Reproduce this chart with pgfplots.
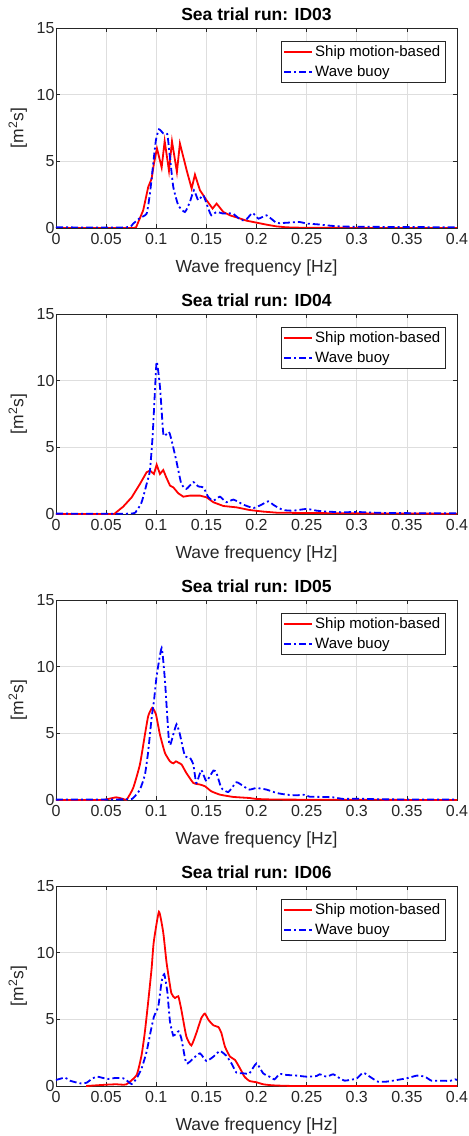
\documentclass[border=0pt]{standalone}
\usepackage{fontspec}
\setmainfont{Liberation Sans}
\usepackage{pgfplots}
\pgfplotsset{compat=1.18}
\usepgfplotslibrary{groupplots}

\pgfplotsset{
  legend image code/.code={\draw[#1] plot coordinates {(0pt,0pt) (28pt,0pt)};},
  specstyle/.style={
    width=401pt,height=200pt,scale only axis,
    xmin=0,xmax=0.4,ymin=0,ymax=15,
    xtick={0,0.05,0.1,0.15,0.2,0.25,0.3,0.35,0.4},
    xticklabels={0,0.05,0.1,0.15,0.2,0.25,0.3,0.35,0.4},
    ytick={0,5,10,15},
    scaled x ticks=false,
    /pgf/number format/assume math mode=true,
    grid=major,
    grid style={black!13,line width=0.6pt},
    axis line style={black!85,line width=0.7pt},
    tick style={black!85,line width=0.7pt},
    tick align=inside,major tick length=4pt,
    xticklabel style={yshift=-2pt},
    yticklabel style={xshift=2pt},
    ticklabel style={font=\fontsize{16}{19}\selectfont,text=black!85},
    xlabel={Wave frequency [Hz]},
    ylabel={[m\textsuperscript{2}s]},
    label style={font=\fontsize{17.5}{21}\selectfont,text=black!85},
    xlabel style={at={(axis description cs:0.5,-0.2)},anchor=center},
    ylabel style={at={(axis description cs:-0.095,0.5)},anchor=center},
    title style={at={(axis description cs:0.5,1.04)},anchor=center,
      font=\bfseries\fontsize{17.5}{21}\selectfont},
    legend style={at={(0.97,0.935)},anchor=north east,draw=black!85,
      font=\fontsize{15}{18}\selectfont,row sep=3.5pt,inner sep=2.5pt},
    legend cell align=left,
  },
  shipline/.style={color=red,line width=1.8pt},
  buoyline/.style={color=blue,line width=1.8pt,dash pattern=on 7pt off 3pt on 2pt off 3pt},
}

\begin{document}
\begin{tikzpicture}
\begin{groupplot}[group style={group size=1 by 4,vertical sep=86pt},specstyle]

\nextgroupplot[title={Sea trial run: ID03}]
\addplot[shipline] coordinates {(0,0)(0.078,0)(0.080,0.07)(0.087,1.33)(0.092,3.08)(0.0954,3.7)(0.0977,4.84)
 (0.1007,5.97)(0.1054,4.54)(0.1084,6.52)(0.1127,4.29)(0.1157,6.5)(0.1206,4.2)(0.1236,6.34)(0.1303,4.34)
 (0.1353,2.96)(0.1386,4.0)(0.1436,2.83)(0.1502,2.08)(0.1562,1.46)(0.1602,1.83)(0.1669,1.2)(0.1735,0.95)
 (0.18,0.8)(0.19,0.55)(0.2,0.4)(0.21,0.25)(0.22,0.12)(0.23,0.05)(0.25,0.01)(0.4,0)};
\addlegendentry{Ship motion-based}
\addplot[buoyline,smooth,tension=0.3] coordinates {(0,0.05)(0.07,0.05)(0.077,0.33)(0.0837,0.75)(0.0904,1.08)(0.0937,2.58)(0.097,4.84)
 (0.0997,6.6)(0.1027,7.4)(0.107,7.1)(0.111,7.05)(0.1136,5.34)(0.117,3.08)(0.122,1.7)(0.1286,1.2)(0.1336,1.96)
 (0.1376,2.83)(0.1419,2.08)(0.1469,2.46)(0.1519,1.46)(0.155,0.95)(0.1602,1.2)(0.1669,1.08)(0.1735,1.1)
 (0.177,1.05)(0.185,0.58)(0.19,0.65)(0.196,1.13)(0.202,0.7)(0.21,0.95)(0.22,0.38)(0.227,0.38)(0.243,0.45)
 (0.25,0.33)(0.26,0.28)(0.27,0.2)(0.28,0.13)(0.293,0.1)(0.33,0.08)(0.4,0.05)};
\addlegendentry{Wave buoy}

\nextgroupplot[title={Sea trial run: ID04}]
\addplot[shipline] coordinates {(0,0)(0.058,0)(0.067,0.55)(0.0755,1.25)(0.0837,2.25)(0.0904,3.13)(0.0937,3.26)
 (0.0977,3.0)(0.1004,3.7)(0.1037,3.0)(0.107,3.3)(0.1097,2.8)(0.1137,2.13)(0.117,2.0)(0.122,1.55)(0.127,1.3)
 (0.1336,1.38)(0.1436,1.38)(0.1502,1.25)(0.157,0.88)(0.167,0.6)(0.18,0.5)(0.193,0.3)(0.2067,0.18)(0.22,0.1)
 (0.243,0.08)(0.293,0.05)(0.4,0.02)};
\addlegendentry{Ship motion-based}
\addplot[buoyline,smooth,tension=0.3] coordinates {(0,0.03)(0.074,0.03)(0.0804,0.25)(0.0854,0.88)(0.0904,2.25)(0.0937,3.26)(0.0963,5.76)
 (0.0984,8.77)(0.1004,11.43)(0.1037,9.55)(0.107,6.03)(0.109,5.9)(0.1127,6.15)(0.1153,5.53)(0.12,4.0)(0.125,2.26)
 (0.13,1.88)(0.137,2.39)(0.142,2.06)(0.147,2.0)(0.152,1.26)(0.157,1.0)(0.1635,1.3)(0.17,0.88)(0.177,1.08)
 (0.187,0.7)(0.197,0.45)(0.205,0.7)(0.2117,0.95)(0.218,0.63)(0.2267,0.3)(0.2366,0.25)(0.25,0.38)(0.26,0.25)
 (0.27,0.18)(0.2865,0.13)(0.3,0.15)(0.326,0.08)(0.36,0.06)(0.4,0.05)};
\addlegendentry{Wave buoy}

\nextgroupplot[title={Sea trial run: ID05}]
\addplot[shipline,smooth,tension=0.3] coordinates {(0,0)(0.045,0)(0.0505,0.05)(0.06,0.2)(0.067,0.08)(0.0705,0.03)(0.077,0.9)(0.0837,2.66)
 (0.0887,4.9)(0.092,6.3)(0.096,6.92)(0.0997,6.42)(0.1037,4.9)(0.1087,3.53)(0.1137,2.9)(0.117,2.75)(0.1196,2.9)
 (0.122,2.8)(0.1253,2.66)(0.13,2.03)(0.137,1.28)(0.1436,1.16)(0.1486,1.03)(0.155,0.65)(0.1635,0.4)(0.167,0.35)
 (0.177,0.23)(0.193,0.15)(0.2,0.08)(0.227,0.03)(0.4,0)};
\addlegendentry{Ship motion-based}
\addplot[buoyline,smooth,tension=0.3] coordinates {(0,0.03)(0.0705,0.05)(0.077,0.15)(0.0837,0.78)(0.0887,1.9)(0.092,3.66)(0.0954,6.17)
 (0.0977,7.42)(0.1004,9.3)(0.1054,11.4)(0.1087,8.94)(0.113,4.17)(0.117,4.92)(0.1203,5.68)(0.1236,4.92)
 (0.1286,3.29)(0.1336,3.17)(0.137,2.66)(0.14,1.28)(0.145,2.24)(0.15,1.41)(0.157,2.21)(0.16,2.04)(0.165,0.9)
 (0.172,0.6)(0.18,1.33)(0.187,1.03)(0.193,0.78)(0.2,0.9)(0.21,0.78)(0.22,0.53)(0.23,0.4)(0.24,0.35)
 (0.2466,0.4)(0.253,0.25)(0.2665,0.23)(0.2765,0.2)(0.2865,0.08)(0.3,0.1)(0.326,0.05)(0.4,0.03)};
\addlegendentry{Wave buoy}

\nextgroupplot[title={Sea trial run: ID06}]
\addplot[shipline,smooth,tension=0.3] coordinates {(0.03,0)(0.0505,0.1)(0.06,0.13)(0.07,0.12)(0.0804,0.82)(0.0854,2.33)(0.0887,4.08)
 (0.092,6.34)(0.0954,8.84)(0.0975,10.8)(0.1027,13.07)(0.107,11.5)(0.1103,9.25)(0.115,6.98)(0.1187,6.6)
 (0.122,6.73)(0.125,5.73)(0.13,3.72)(0.135,3.04)(0.14,3.97)(0.145,5.1)(0.1485,5.43)(0.152,4.97)(0.157,4.55)
 (0.162,4.42)(0.165,3.97)(0.1685,2.96)(0.1735,2.21)(0.1785,1.96)(0.1835,1.33)(0.188,0.7)(0.193,0.38)
 (0.2,0.28)(0.2067,0.13)(0.2167,0.05)(0.243,0)(0.4,0)};
\addlegendentry{Ship motion-based}
\addplot[buoyline,smooth,tension=0.3] coordinates {(0,0.45)(0.009,0.63)(0.014,0.4)(0.024,0.2)(0.0306,0.25)(0.0365,0.58)(0.0415,0.7)
 (0.047,0.6)(0.052,0.53)(0.059,0.6)(0.067,0.58)(0.072,0.33)(0.0755,0.15)(0.0804,0.57)(0.0854,1.32)(0.0904,2.58)
 (0.0944,4.08)(0.0977,5.2)(0.102,5.96)(0.1054,7.84)(0.108,8.39)(0.111,7.09)(0.1137,4.83)(0.117,3.78)(0.12,3.96)
 (0.1223,4.1)(0.125,3.58)(0.13,1.7)(0.137,2.08)(0.1436,2.45)(0.15,1.88)(0.157,2.2)(0.1635,2.63)(0.17,2.26)
 (0.175,1.7)(0.18,1.0)(0.1868,0.95)(0.193,0.95)(0.2,1.7)(0.2067,0.95)(0.213,0.7)(0.218,0.5)(0.223,0.9)
 (0.23,0.83)(0.24,0.78)(0.25,0.7)(0.26,0.75)(0.263,0.88)(0.27,0.7)(0.2765,0.88)(0.283,0.58)(0.288,0.4)
 (0.2965,0.5)(0.3,0.55)(0.3064,1.0)(0.313,0.7)(0.321,0.33)(0.33,0.33)(0.34,0.45)(0.35,0.58)(0.36,0.78)
 (0.368,0.7)(0.3746,0.4)(0.386,0.4)(0.393,0.38)(0.398,0.5)(0.4,0.45)};
\addlegendentry{Wave buoy}

\end{groupplot}
\pgfresetboundingbox
\path[use as bounding box] ([xshift=-56pt,yshift=28pt]group c1r1.north west)
  rectangle ([xshift=11pt,yshift=-50pt]group c1r4.south east);
\end{tikzpicture}
\end{document}
